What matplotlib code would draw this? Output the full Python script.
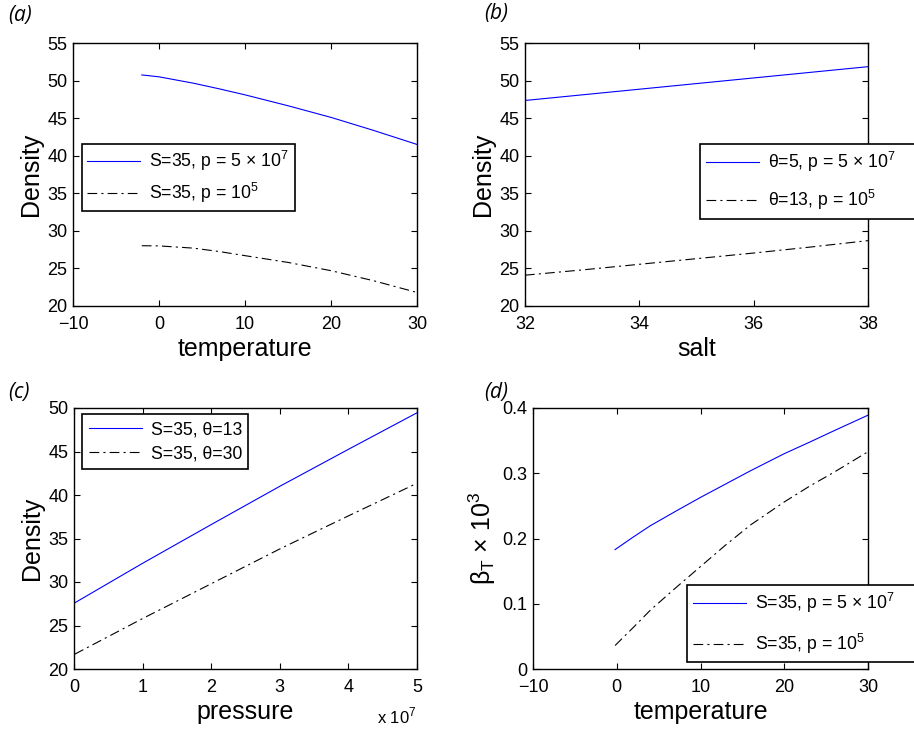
import matplotlib
matplotlib.use("Agg")
import matplotlib.pyplot as plt
from matplotlib.ticker import FuncFormatter

plt.rcParams['font.family'] = ['Liberation Sans', 'DejaVu Sans']
plt.rcParams['mathtext.fontset'] = 'custom'
plt.rcParams['mathtext.rm'] = 'Liberation Sans'
plt.rcParams['lines.scale_dashes'] = False

# (a) density vs temperature
temp_a = [-2, 0, 4, 7, 10, 15, 20, 25, 30]
dens_a_hi = [50.75, 50.5, 49.65, 48.9, 48.1, 46.65, 45.1, 43.35, 41.5]
dens_a_lo = [28.02, 28.0, 27.7, 27.25, 26.7, 25.8, 24.7, 23.35, 21.8]

# (b) density vs salt
salt_b = [32, 33, 34, 35, 36, 37, 38]
dens_b_hi = [47.35, 48.1, 48.85, 49.6, 50.35, 51.1, 51.85]
dens_b_lo = [24.1, 24.8, 25.55, 26.3, 27.05, 27.85, 28.7]

# (c) density vs pressure
pres_c = [1e5, 1e7, 2e7, 3e7, 4e7, 5e7]
dens_c_13 = [27.6, 32.15, 36.6, 41.0, 45.25, 49.45]
dens_c_30 = [21.7, 25.8, 29.8, 33.8, 37.6, 41.35]

# (d) beta_T vs temperature
temp_d = [-0.2, 2, 4, 7, 10, 13, 16, 20, 23, 26, 30]
beta_d_hi = [0.183, 0.2025, 0.2195, 0.2415, 0.263, 0.2835, 0.304, 0.330, 0.3475, 0.3655, 0.389]
beta_d_lo = [0.036, 0.064, 0.090, 0.124, 0.157, 0.19, 0.221, 0.256, 0.28, 0.302, 0.333]

W, H = 914, 732
fig = plt.figure(figsize=(W / 100, H / 100), dpi=100)

def box(l, t, r, b):
    return [l / W, 1 - b / H, (r - l) / W, (b - t) / H]

ax_a = fig.add_axes(box(73, 43, 417, 306))
ax_b = fig.add_axes(box(525, 43, 868, 306))
ax_c = fig.add_axes(box(74, 408, 417, 669))
ax_d = fig.add_axes(box(533, 408, 868, 669))

dd = (0, (7, 3, 1.5, 3))
blue = (0, 0, 1)

def style(ax):
    ax.tick_params(direction='in', top=True, right=True, labelsize=13, length=4, width=0.8)
    ax.tick_params(axis='x', pad=7)
    ax.tick_params(axis='y', pad=4)
    for s in ax.spines.values():
        s.set_linewidth(1.0)

def leg(ax, l, t, r, spacing, pad):
    # legend box spans l..r pixels, top at t
    lg = ax.legend(loc='upper left', bbox_to_anchor=(l / W, 1 - (t + 1) / H, (r - l) / W, 1 / H),
                   bbox_transform=fig.transFigure, mode='expand',
                   fontsize=12.7, fancybox=False, framealpha=1, edgecolor='black', borderaxespad=0,
                   handlelength=3.0, handletextpad=0.5, labelspacing=spacing, borderpad=pad)
    lg.get_frame().set_linewidth(1.2)
    lg.set_clip_on(False)

ax_a.plot(temp_a, dens_a_hi, color=blue, lw=0.8, label='S=35, p = 5 × 10$^\\mathregular{7}$')
ax_a.plot(temp_a, dens_a_lo, color='black', lw=0.8, linestyle=dd, label='S=35, p = 10$^\\mathregular{5}$')
ax_a.set_xlim(-10, 30)
ax_a.set_ylim(20, 55)
ax_a.set_xticks([-10, 0, 10, 20, 30])
ax_a.set_xticklabels(['\u221210', '0', '10', '20', '30'])
ax_a.set_yticks([20, 25, 30, 35, 40, 45, 50, 55])
ax_a.set_xlabel('temperature', fontsize=18, labelpad=3)
ax_a.set_ylabel('Density', fontsize=18, labelpad=3)
style(ax_a)
leg(ax_a, 82, 144, 295, 0.45, 0.3)

ax_b.plot(salt_b, dens_b_hi, color=blue, lw=0.8, label='\u03b8=5, p = 5 × 10$^\\mathregular{7}$')
ax_b.plot(salt_b, dens_b_lo, color='black', lw=0.8, linestyle=dd, label='\u03b8=13, p = 10$^\\mathregular{5}$')
ax_b.set_xlim(32, 38)
ax_b.set_ylim(20, 55)
ax_b.set_xticks([32, 34, 36, 38])
ax_b.set_yticks([20, 25, 30, 35, 40, 45, 50, 55])
ax_b.set_xlabel('salt', fontsize=18, labelpad=3)
ax_b.set_ylabel('Density', fontsize=18, labelpad=3)
style(ax_b)
leg(ax_b, 700, 144, 925, 0.8, 0.35)

ax_c.plot(pres_c, dens_c_13, color=blue, lw=0.8, label='S=35, \u03b8=13')
ax_c.plot(pres_c, dens_c_30, color='black', lw=0.8, linestyle=dd, label='S=35, \u03b8=30')
ax_c.set_xlim(0, 5e7)
ax_c.set_ylim(20, 50)
ax_c.set_xticks([0, 1e7, 2e7, 3e7, 4e7, 5e7])
ax_c.xaxis.set_major_formatter(FuncFormatter(lambda v, p: '%d' % round(v / 1e7)))
ax_c.set_yticks([20, 25, 30, 35, 40, 45, 50])
ax_c.set_xlabel('pressure', fontsize=18, labelpad=3)
ax_c.set_ylabel('Density', fontsize=18, labelpad=3)
ax_c.text(1.0, -0.14, 'x 10$^\\mathregular{7}$', transform=ax_c.transAxes, ha='right', va='top', fontsize=12)
style(ax_c)
leg(ax_c, 82, 414, 248, 0.4, 0.4)

ax_d.plot(temp_d, beta_d_hi, color=blue, lw=0.8, label='S=35, p = 5 × 10$^\\mathregular{7}$')
ax_d.plot(temp_d, beta_d_lo, color='black', lw=0.8, linestyle=dd, label='S=35, p = 10$^\\mathregular{5}$')
ax_d.set_xlim(-10, 30)
ax_d.set_ylim(0, 0.4)
ax_d.set_xticks([-10, 0, 10, 20, 30])
ax_d.set_xticklabels(['\u221210', '0', '10', '20', '30'])
ax_d.set_yticks([0, 0.1, 0.2, 0.3, 0.4])
ax_d.set_yticklabels(['0', '0.1', '0.2', '0.3', '0.4'])
ax_d.set_xlabel('temperature', fontsize=18, labelpad=3)
ax_d.set_ylabel('\u03b2$_\\mathregular{T}$ × 10$^\\mathregular{3}$', fontsize=18, labelpad=3)
style(ax_d)
leg(ax_d, 687, 585, 925, 0.95, 0.35)

for lbl, x, y in [('(a)', 8, 15), ('(b)', 484, 14), ('(c)', 8, 392), ('(d)', 484, 392)]:
    fig.text(x / W, 1 - y / H, lbl, fontsize=15, style='italic', family='Open Sans', va='center', ha='left')

fig.savefig('out.png', dpi=100)
